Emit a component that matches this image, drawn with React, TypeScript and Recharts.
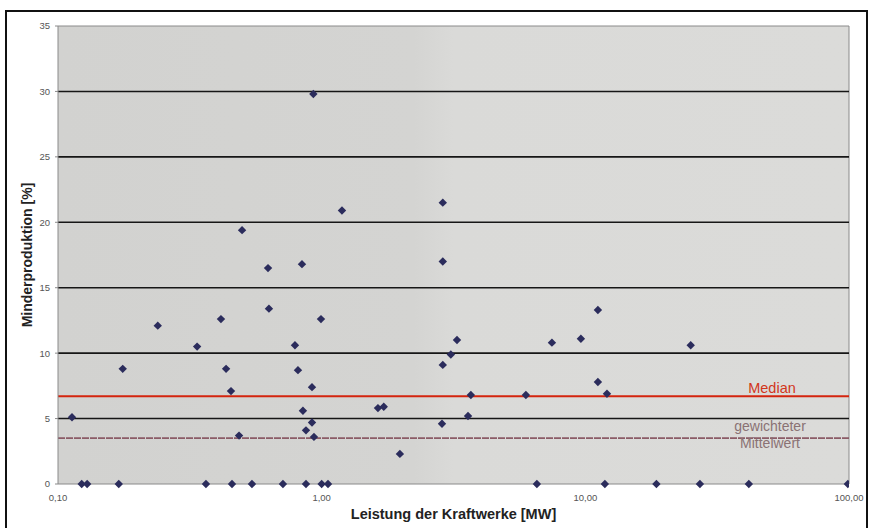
import React from 'react';
import { ScatterChart, Scatter, XAxis, YAxis, CartesianGrid, ReferenceLine } from 'recharts';

const capacityMW = [
  0.113, 0.123, 0.129, 0.170, 0.176, 0.239, 0.337, 0.364, 0.415, 0.434,
  0.453, 0.457, 0.486, 0.499, 0.544, 0.626, 0.631, 0.713, 0.792, 0.813,
  0.842, 0.849, 0.872, 0.872, 0.919, 0.919, 0.93, 0.935, 0.994, 1.0,
  1.057, 1.194, 1.635, 1.72, 1.98, 2.86, 2.88, 2.88, 2.88, 3.09,
  3.26, 3.59, 3.68, 5.95, 6.55, 7.47, 9.62, 11.16, 11.16, 12.08,
  11.86, 18.6, 25.1, 27.2, 41.7, 99.0,
];
const reductionPct = [
  5.1, 0, 0, 0, 8.8, 12.1, 10.5, 0, 12.6, 8.8,
  7.1, 0, 3.7, 19.4, 0, 16.5, 13.4, 0, 10.6, 8.7,
  16.8, 5.6, 4.1, 0, 7.4, 4.7, 29.8, 3.6, 12.6, 0,
  0, 20.9, 5.8, 5.9, 2.3, 4.6, 21.5, 17.0, 9.1, 9.9,
  11.0, 5.2, 6.8, 6.8, 0, 10.8, 11.1, 7.8, 13.3, 6.9,
  0, 0, 10.6, 0, 0, 0,
];
const xTicks = [0.1, 1, 10, 100];
const yTicks = [0, 5, 10, 15, 20, 25, 30, 35];
const gridValues = [5, 10, 15, 20, 25, 30];
const medianValue = 6.7;
const weightedMeanValue = 3.5;

const data = capacityMW.map((x, i) => ({ x, y: reductionPct[i] }));

const FONT = '"Liberation Sans", Arial, sans-serif';

const Diamond = (props: any) => {
  const { cx, cy } = props;
  if (cx == null || cy == null) return null;
  const r = 4.2;
  return (
    <polygon
      points={`${cx},${cy - r} ${cx + r},${cy} ${cx},${cy + r} ${cx - r},${cy}`}
      fill="#2b2c5c"
    />
  );
};

const fmtX = (v: number) => v.toFixed(2).replace('.', ',');

export default function App() {
  return (
    <div style={{ position: 'absolute', left: 0, top: 0, width: 872, height: 528, background: '#fff', overflow: 'hidden' }}>
      <div
        style={{
          position: 'absolute', left: 5, top: 10, width: 859, height: 600,
          borderLeft: '2px solid #111', borderTop: '2px solid #111', borderRight: '2px solid #111',
        }}
      />
      <div style={{ position: 'absolute', left: 0, top: 0 }}>
        <ScatterChart width={872} height={528} margin={{ top: 26, right: 23, bottom: 24, left: 28 }}>
          <defs>
            <linearGradient id="bg" x1="0" y1="0" x2="1" y2="0">
              <stop offset="0%" stopColor="#d2d2d0" />
              <stop offset="45%" stopColor="#d4d4d2" />
              <stop offset="50%" stopColor="#dadad8" />
              <stop offset="100%" stopColor="#dbdbd9" />
            </linearGradient>
          </defs>
          <CartesianGrid horizontal={false} vertical={false} fill="url(#bg)" fillOpacity={1} />
          <XAxis
            type="number"
            dataKey="x"
            scale="log"
            domain={[0.1, 100]}
            ticks={xTicks}
            allowDataOverflow
            tickFormatter={fmtX}
            tickLine={false}
            tickSize={0}
            tickMargin={10}
            height={20}
            axisLine={{ stroke: '#8a8a8a', strokeWidth: 1 }}
            tick={{ fontSize: 9.5, fill: '#555', fontFamily: FONT }}
            label={(p: any) => {
              const vb = p.viewBox;
              return (
                <text x={vb.x + vb.width / 2} y={519} textAnchor="middle" fontFamily={FONT} fontWeight="bold" fontSize={14.5} fill="#222">
                  Leistung der Kraftwerke [MW]
                </text>
              );
            }}
          />
          <YAxis
            type="number"
            dataKey="y"
            domain={[0, 35]}
            ticks={yTicks}
            width={30}
            tickSize={3}
            tickMargin={5}
            tickLine={{ stroke: '#8a8a8a' }}
            axisLine={{ stroke: '#8a8a8a', strokeWidth: 1 }}
            tick={{ fontSize: 9.5, fill: '#555', fontFamily: FONT }}
            label={(p: any) => {
              const vb = p.viewBox;
              const cy = vb.y + vb.height / 2;
              return (
                <text x={27} y={cy} transform={`rotate(-90, 27, ${cy})`} textAnchor="middle" dominantBaseline="central" fontFamily={FONT} fontWeight="bold" fontSize={14} fill="#222">
                  Minderproduktion [%]
                </text>
              );
            }}
          />
          <ReferenceLine y={35} stroke="#8a8a8a" strokeWidth={1} />
          <ReferenceLine x={100} stroke="#8a8a8a" strokeWidth={1} />
          {gridValues.map((g) => (
            <ReferenceLine key={g} y={g} stroke="#161616" strokeWidth={1.6} />
          ))}
          <ReferenceLine
            y={weightedMeanValue}
            stroke="#8b5b66"
            strokeWidth={1.8}
            strokeDasharray="7 1"
            label={(p: any) => {
              const vb = p.viewBox;
              const x = vb.x + vb.width - 79;
              return (
                <g fontFamily={FONT} fontSize={14} fill="#8a7274" textAnchor="middle">
                  <text x={x} y={vb.y - 7}>gewichteter</text>
                  <text x={x} y={vb.y + 10}>Mittelwert</text>
                </g>
              );
            }}
          />
          <ReferenceLine
            y={medianValue}
            stroke="#d4240e"
            strokeWidth={2}
            label={(p: any) => {
              const vb = p.viewBox;
              return (
                <text x={vb.x + vb.width - 77} y={vb.y - 3} textAnchor="middle" fontFamily={FONT} fontSize={14.5} fill="#d2361c">
                  Median
                </text>
              );
            }}
          />
          <Scatter data={data} shape={Diamond} isAnimationActive={false} />
        </ScatterChart>
      </div>
    </div>
  );
}
